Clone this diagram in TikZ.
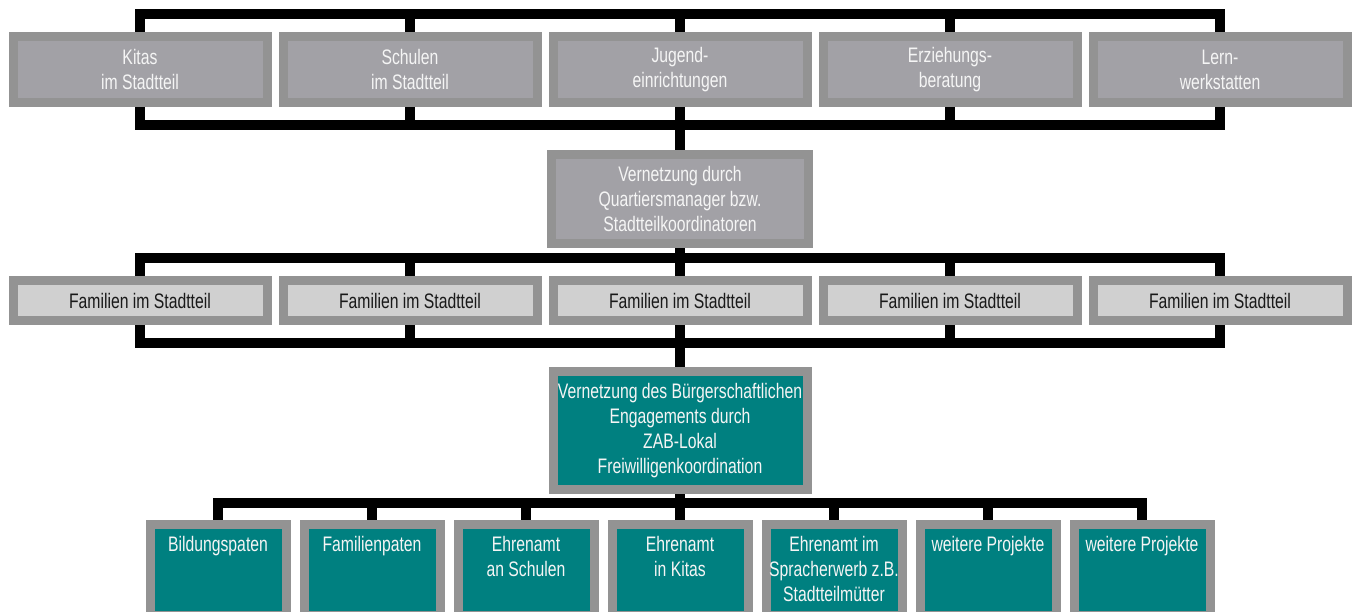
\documentclass[tikz,border=0pt]{standalone}
\usepackage{fontspec}
\setmainfont{Liberation Sans}[FakeStretch=0.75]
\usetikzlibrary{backgrounds}
\definecolor{bordergray}{RGB}{147,147,147}
\definecolor{topfill}{RGB}{162,161,166}
\definecolor{famfill}{RGB}{208,208,208}
\definecolor{tealfill}{RGB}{0,128,128}
\definecolor{whitetext}{RGB}{245,245,245}
\definecolor{darktext}{RGB}{25,25,25}
\newcommand{\projtext}[1]{\parbox[c][91pt][t]{136pt}{\centering\rule{0pt}{27pt}#1}}
\begin{document}
\begin{tikzpicture}[x=1pt,y=1pt,
  box/.style={draw=bordergray, line width=9pt, inner sep=0pt, align=center, font=\fontsize{21}{25}\selectfont},
  topbox/.style={box, fill=topfill, text=whitetext, minimum width=254pt, minimum height=66pt},
  fambox/.style={box, fill=famfill, text=darktext, minimum width=254pt, minimum height=40pt},
  midbox/.style={box, fill=topfill, text=whitetext, minimum width=257pt, minimum height=89pt},
  tealbox/.style={box, fill=tealfill, text=whitetext, minimum width=254pt, minimum height=118pt},
  projbox/.style={box, fill=tealfill, text=whitetext},
  conn/.style={line width=10pt, draw=black}
]
\useasboundingbox (0,0) rectangle (1359,-612);
\clip (0,0) rectangle (1359,-612);

% top row
\node[topbox] (k1) at (140,-69.5) {Kitas\\im Stadtteil};
\node[topbox] (k2) at (410,-69.5) {Schulen\\im Stadtteil};
\node[topbox] (k3) at (680,-69.5) {Jugend-\\einrichtungen};
\node[topbox] (k4) at (950,-69.5) {Erziehungs-\\beratung};
\node[topbox] (k5) at (1220,-69.5) {Lern-\\werkstatten};

\node[midbox] (q) at (680,-199) {Vernetzung durch\\Quartiersmanager bzw.\\Stadtteilkoordinatoren};

% families
\node[fambox] (f1) at (140,-300.5) {Familien im Stadtteil};
\node[fambox] (f2) at (410,-300.5) {Familien im Stadtteil};
\node[fambox] (f3) at (680,-300.5) {Familien im Stadtteil};
\node[fambox] (f4) at (950,-300.5) {Familien im Stadtteil};
\node[fambox] (f5) at (1220,-300.5) {Familien im Stadtteil};

\node[tealbox] (z) at (680,-430.5) {Vernetzung des Bürgerschaftlichen\\Engagements durch\\ZAB-Lokal\\Freiwilligenkoordination};

% projects
\node[projbox] (b1) at (218,-570) {\projtext{Bildungspaten}};
\node[projbox] (b2) at (372,-570) {\projtext{Familienpaten}};
\node[projbox] (b3) at (526,-570) {\projtext{Ehrenamt\\an Schulen}};
\node[projbox] (b4) at (680,-570) {\projtext{Ehrenamt\\in Kitas}};
\node[projbox] (b5) at (834,-570) {\projtext{Ehrenamt im\\Spracherwerb z.B.\\Stadtteilmütter}};
\node[projbox] (b6) at (988,-570) {\projtext{weitere Projekte}};
\node[projbox] (b7) at (1142,-570) {\projtext{weitere Projekte}};

\begin{scope}[on background layer]
  \draw[conn] (k1.north) -- ++(0,17.5) -| (k5.north);
  \foreach \i in {2,3,4} \draw[conn] (k\i.north) -- ++(0,17.5);
  \draw[conn] (k1.south) -- ++(0,-18.5) -| (k5.south);
  \foreach \i in {2,3,4} \draw[conn] (k\i.south) -- ++(0,-18.5);
  \draw[conn] (k3.south) -- (q.north);
  \draw[conn] (q.south) -- (f3.north);
  \draw[conn] (f1.north) -- ++(0,18) -| (f5.north);
  \foreach \i in {2,3,4} \draw[conn] (f\i.north) -- ++(0,18);
  \draw[conn] (f1.south) -- ++(0,-18) -| (f5.south);
  \foreach \i in {2,3,4} \draw[conn] (f\i.south) -- ++(0,-18);
  \draw[conn] (f3.south) -- (z.north);
  \draw[conn] (z.south) -- (b4.north);
  \draw[conn] (b1.north) -- ++(0,17) -| (b7.north);
  \foreach \i in {2,3,4,5,6} \draw[conn] (b\i.north) -- ++(0,17);
\end{scope}
\end{tikzpicture}
\end{document}
